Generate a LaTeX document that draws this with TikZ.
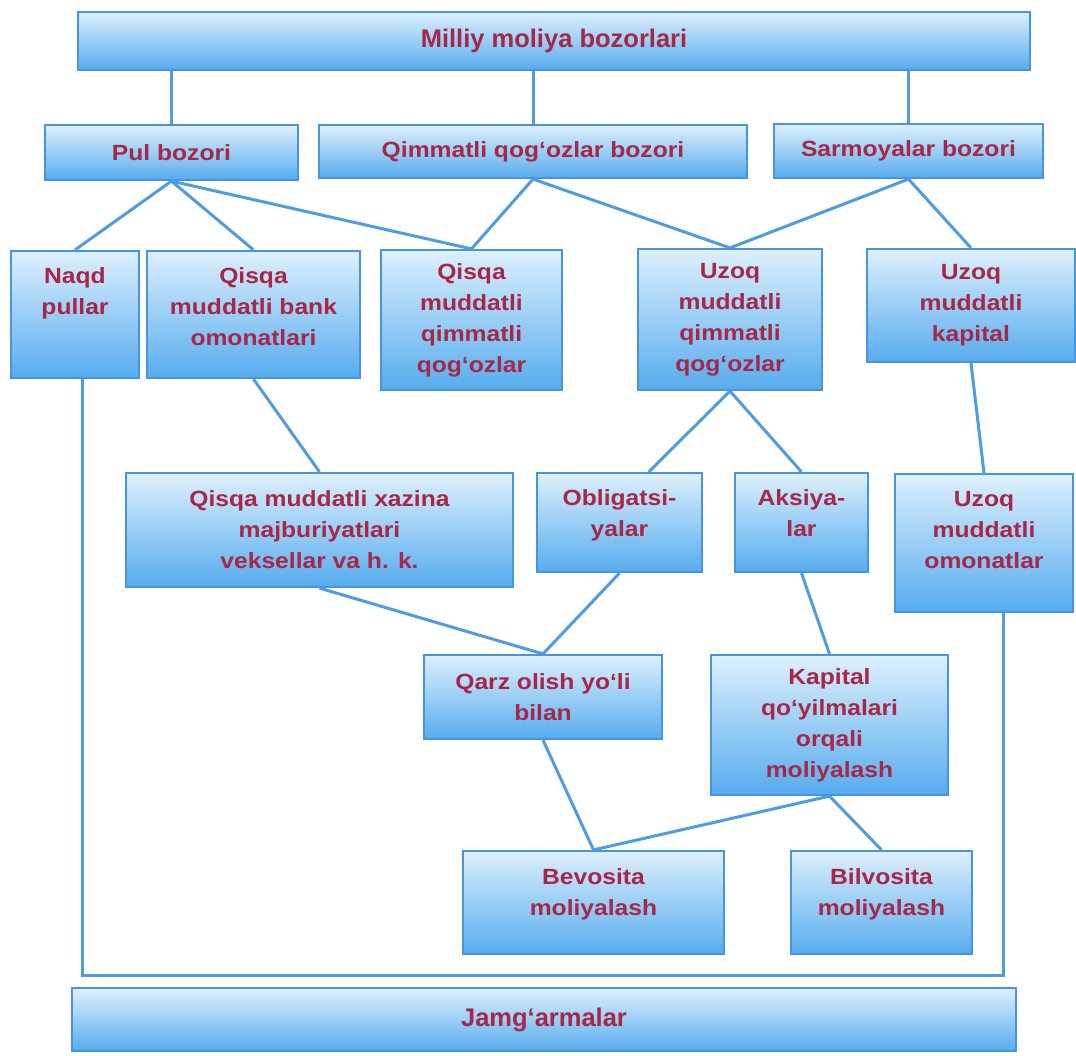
\documentclass[tikz,border=0pt]{standalone}
\usepackage{fontspec}
\setmainfont{Liberation Sans}
\newfontfamily\bodyfont{Liberation Sans}[FakeStretch=1.12]
\newfontfamily\headfont{Liberation Sans}
\usepackage{tikz}
\usepackage{xcolor}
\definecolor{boxline}{RGB}{70,148,226}
\definecolor{boxtop}{RGB}{222,240,253}
\definecolor{boxmid}{RGB}{168,214,247}
\definecolor{boxbot}{RGB}{86,172,238}
\definecolor{linkc}{RGB}{78,156,225}
\definecolor{txt}{RGB}{168,38,70}
\newcommand{\lowpad}[1]{\rule[-#1pt]{0pt}{0pt}}

\begin{document}
\begin{tikzpicture}[x=1pt,y=-1pt,
		box/.style={draw=boxline,line width=2.2pt,top color=boxtop,middle color=boxmid,bottom color=boxbot,
			text=txt,align=center,inner sep=0pt,font={\bodyfont\bfseries\fontsize{22}{31}\selectfont}},
		headbox/.style={box,font={\headfont\bfseries\fontsize{25.5}{30}\selectfont}},
		link/.style={draw=linkc,line width=3pt}]
		\useasboundingbox (0,0) rectangle (1076,1055);
		% level 1 and 2
		\node[headbox,minimum width=952,minimum height=58] (milliy) at (554,41) {Milliy moliya bozorlari};
		\node[box,minimum width=253,minimum height=55] (pul) at (171.5,152.5) {Pul bozori};
		\node[box,minimum width=428,minimum height=53] (qim) at (533,151.5) {Qimmatli qog‘ozlar bozori};
		\node[box,minimum width=269,minimum height=54] (sar) at (908.5,151) {Sarmoyalar bozori};
		% level 3
		\node[box,minimum width=128,minimum height=127] (naqd) at (75,314.5) {Naqd\\pullar\lowpad{46}};
		\node[box,minimum width=213,minimum height=127] (bank) at (253.5,314.5) {Qisqa\\muddatli bank\\omonatlari\lowpad{16}};
		\node[box,minimum width=181,minimum height=140] (qq) at (471.5,320) {Qisqa\\muddatli\\qimmatli\\qog‘ozlar};
		\node[box,minimum width=184,minimum height=141] (uq) at (730,319.5) {Uzoq\\muddatli\\qimmatli\\qog‘ozlar};
		\node[box,minimum width=208,minimum height=113] (kap) at (971,305.5) {Uzoq\\muddatli\\kapital};
		% level 4
		\node[box,minimum width=387,minimum height=114] (xaz) at (319.5,530) {Qisqa muddatli xazina\\majburiyatlari\\veksellar va h. k.};
		\node[box,minimum width=165,minimum height=99] (obl) at (619.5,522.5) {Obligatsi-\\yalar\lowpad{18}};
		\node[box,minimum width=133,minimum height=99] (aks) at (801.5,522.5) {Aksiya-\\lar\lowpad{18}};
		\node[box,minimum width=178,minimum height=138] (omo) at (984,543) {Uzoq\\muddatli\\omonatlar\lowpad{26}};
		% level 5 and 6
		\node[box,minimum width=238,minimum height=84] (qarz) at (543,697) {Qarz olish yo‘li\\bilan};
		\node[box,minimum width=237,minimum height=140] (kapq) at (829.5,725) {Kapital\\qo‘yilmalari\\orqali\\moliyalash};
		\node[box,minimum width=261,minimum height=103] (bev) at (593.5,902.5) {Bevosita\\moliyalash\lowpad{20}};
		\node[box,minimum width=181,minimum height=103] (bil) at (881.5,902.5) {Bilvosita\\moliyalash\lowpad{20}};
		\node[headbox,minimum width=944,minimum height=63] (jam) at (544,1019.5) {Jamg‘armalar};
		% connectors
		\draw[link] (pul.north) -- (pul.north |- milliy.south);
		\draw[link] (qim.north) -- (qim.north |- milliy.south);
		\draw[link] (sar.north) -- (sar.north |- milliy.south);
		\draw[link] (pul.south) -- (naqd.north);
		\draw[link] (pul.south) -- (bank.north);
		\draw[link] (pul.south) -- (qq.north);
		\draw[link] (qim.south) -- (qq.north);
		\draw[link] (qim.south) -- (uq.north);
		\draw[link] (sar.south) -- (uq.north);
		\draw[link] (sar.south) -- (kap.north);
		\draw[link] (bank.south) -- (xaz.north);
		\draw[link] (uq.south) -- (obl.60);
		\draw[link] (uq.south) -- (aks.north);
		\draw[link] (kap.south) -- (omo.north);
		\draw[link] (xaz.south) -- (qarz.north);
		\draw[link] (obl.south) -- (qarz.north);
		\draw[link] (aks.south) -- (kapq.north);
		\draw[link] (qarz.south) -- (bev.north);
		\draw[link] (kapq.south) -- (bev.north);
		\draw[link] (kapq.south) -- (bil.north);
		\coordinate (jl) at (82,975);
		\coordinate (jr) at (1003,975);
		\draw[link] (naqd.south -| jl) -- (jl) -- (jr) -- (omo.south -| jr);
\end{tikzpicture}
\end{document}
